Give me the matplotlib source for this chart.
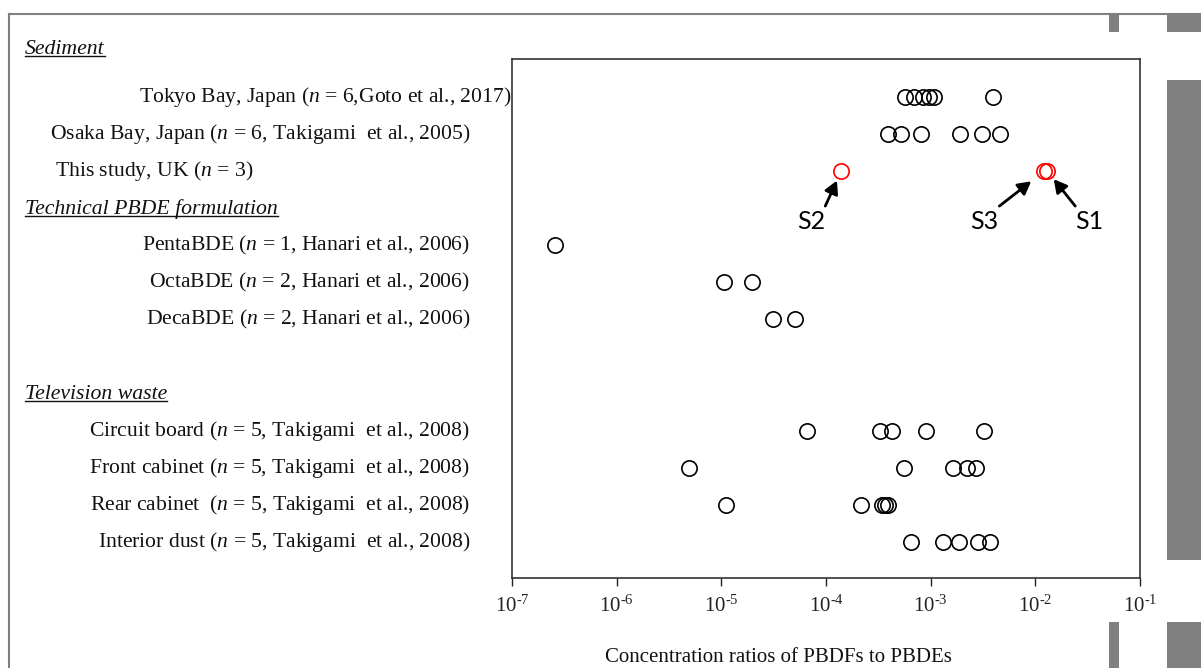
import matplotlib
matplotlib.use("Agg")
from matplotlib import pyplot as plt
from matplotlib.lines import Line2D
from matplotlib.patches import Rectangle
from matplotlib.ticker import FixedLocator, NullLocator
from matplotlib.transforms import blended_transform_factory

plt.rcParams["font.family"] = ["Liberation Serif", "DejaVu Serif"]
plt.rcParams["mathtext.fontset"] = "custom"
plt.rcParams["mathtext.rm"] = "Liberation Serif"
plt.rcParams["mathtext.it"] = "Liberation Serif:italic"

# ratios PBDFs / PBDEs
tokyo = [5.7e-4, 7.0e-4, 8.5e-4, 9.6e-4, 1.07e-3, 3.9e-3]
osaka = [3.9e-4, 5.2e-4, 8.0e-4, 1.92e-3, 3.1e-3, 4.6e-3]
uk = [1.3e-2, 1.4e-4, 1.22e-2]  # S1, S2, S3
uk_names = ["S1", "S2", "S3"]
penta = [2.6e-7]
octa = [1.07e-5, 1.95e-5]
deca = [3.1e-5, 5.1e-5]
circuit = [6.6e-5, 3.3e-4, 4.25e-4, 9.0e-4, 3.2e-3]
front = [4.9e-6, 5.6e-4, 1.63e-3, 2.23e-3, 2.73e-3]
rear = [1.1e-5, 2.14e-4, 3.4e-4, 3.7e-4, 3.95e-4]
interior = [6.45e-4, 1.3e-3, 1.87e-3, 2.84e-3, 3.66e-3]

rows = [tokyo, osaka, uk, penta, octa, deca, circuit, front, rear, interior]
row_slots = [0, 1, 2, 4, 5, 6, 9, 10, 11, 12]
row_labels = [
    "Tokyo Bay, Japan ($n$ = 6,Goto et al., 2017)",
    "Osaka Bay, Japan ($n$ = 6, Takigami  et al., 2005)",
    "This study, UK ($n$ = 3)",
    "PentaBDE ($n$ = 1, Hanari et al., 2006)",
    "OctaBDE ($n$ = 2, Hanari et al., 2006)",
    "DecaBDE ($n$ = 2, Hanari et al., 2006)",
    "Circuit board ($n$ = 5, Takigami  et al., 2008)",
    "Front cabinet ($n$ = 5, Takigami  et al., 2008)",
    "Rear cabinet  ($n$ = 5, Takigami  et al., 2008)",
    "Interior dust ($n$ = 5, Takigami  et al., 2008)",
]
headers = ["Sediment", "Technical PBDE formulation", "Television waste"]
header_slots = [-1.27, 3.02, 8.03]

xticks = [1e-7, 1e-6, 1e-5, 1e-4, 1e-3, 1e-2, 1e-1]
xtick_labels = ["$10^{\\text{-}7}$", "$10^{\\text{-}6}$", "$10^{\\text{-}5}$",
                "$10^{\\text{-}4}$", "$10^{\\text{-}3}$", "$10^{\\text{-}2}$",
                "$10^{\\text{-}1}$"]

fig = plt.figure(figsize=(12.01, 6.68), dpi=100)
ax = fig.add_axes([0.4263, 0.1347, 0.5229, 0.7769])

for i, vals in enumerate(rows):
    color = "red" if vals is uk else "black"
    ax.plot(vals, [row_slots[i]] * len(vals), "o", ms=11, mfc="none",
            mec=color, mew=1.2, linestyle="none")

ax.set_xscale("log")
ax.set_xlim(1e-7, 1e-1)
ax.set_ylim(12.97, -1.02)
ax.xaxis.set_major_locator(FixedLocator(xticks))
ax.xaxis.set_minor_locator(NullLocator())
ax.set_xticklabels(xtick_labels)
ax.set_yticks([])
ax.tick_params(axis="x", direction="out", length=6, width=1, labelsize=15,
               pad=7, colors="#222222")
for sp in ax.spines.values():
    sp.set_linewidth(1.2)
    sp.set_color("#333333")

# row labels, tied to the row positions
tr = blended_transform_factory(fig.transFigure, ax.transData)
for i, lab in enumerate(row_labels):
    if i == 0:
        fig.text(0.4255, row_slots[i], lab, transform=tr, ha="right",
                 va="center", fontsize=15.6, color="#111111")
    elif i == 2:
        fig.text(0.0458, row_slots[i], lab, transform=tr, ha="left",
                 va="center", fontsize=15.6, color="#111111")
    else:
        fig.text(0.3913, row_slots[i], lab, transform=tr, ha="right",
                 va="center", fontsize=15.6, color="#111111")

header_texts = []
for h, s in zip(headers, header_slots):
    t = fig.text(0.021, s, h, transform=tr, ha="left", va="center",
                 fontsize=15.7, style="italic", color="#111111")
    header_texts.append(t)

# S1-S3 labels and arrows
arrow_tail = {"S1": (28, -35), "S2": (-16, -35), "S3": (-45, -35)}
arrow_shrink = {"S1": 7.5, "S2": 7.5, "S3": 12}
text_off = {"S1": (42, -50), "S2": (-30, -50), "S3": (-60, -50)}
for name, v in zip(uk_names, uk):
    ax.annotate("", xy=(v, row_slots[2]), xytext=arrow_tail[name],
                textcoords="offset pixels",
                arrowprops=dict(arrowstyle="-|>,head_length=0.55,head_width=0.3",
                                color="black", lw=2, shrinkA=0,
                                shrinkB=arrow_shrink[name], mutation_scale=14))
    ax.annotate(name, xy=(v, row_slots[2]), xytext=text_off[name],
                textcoords="offset pixels", ha="center", va="center",
                fontsize=18, family=["Lato", "DejaVu Sans"])

fig.text(0.648, 0.002, "Concentration ratios of PBDFs to PBDEs",
         ha="center", va="bottom", fontsize=15, color="#111111")

# page frame and grey blocks from the slide
W, H = 1201.0, 668.0
fig.add_artist(Line2D([9 / W, 1], [1 - 14 / H, 1 - 14 / H], color="#808080",
                      lw=1.5, transform=fig.transFigure))
fig.add_artist(Line2D([9 / W, 9 / W], [0, 1 - 14 / H], color="#808080",
                      lw=1.5, transform=fig.transFigure))
for (x0, y0, x1, y1) in [(1109, 14, 1119, 32), (1167, 14, 1201, 32),
                         (1167, 80, 1201, 560), (1109, 622, 1119, 668),
                         (1167, 622, 1201, 668)]:
    fig.add_artist(Rectangle((x0 / W, 1 - y1 / H), (x1 - x0) / W,
                             (y1 - y0) / H, color="#808080", lw=0,
                             transform=fig.transFigure))

# underline the italic group headers
fig.canvas.draw()
for t in header_texts:
    bb = t.get_window_extent()
    y = (bb.y0 + 3) / H
    fig.add_artist(Line2D([bb.x0 / W, bb.x1 / W], [y, y], color="#111111",
                          lw=1, transform=fig.transFigure))

fig.savefig("out.png", dpi=100)
